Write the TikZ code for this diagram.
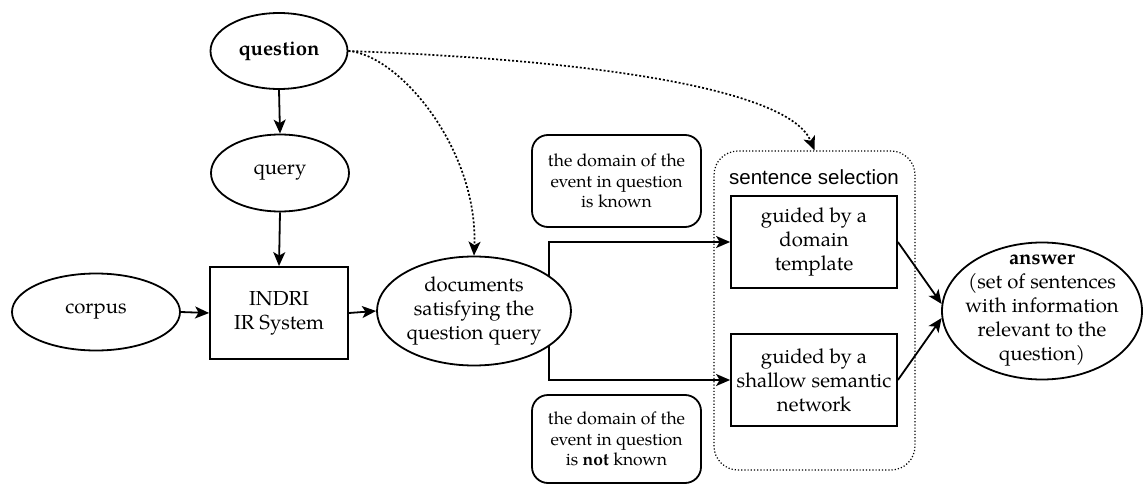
\documentclass[tikz,border=0pt]{standalone}
\usepackage{fontspec}
\setmainfont{TeX Gyre Pagella}
\newfontfamily\labelsans{Liberation Sans}
\usepackage{tikz}
\usetikzlibrary{arrows.meta,shapes.geometric,backgrounds}

\begin{document}
\begin{tikzpicture}[x=1pt,y=-1pt,font=\fontsize{20.3}{24}\selectfont,
  el/.style={draw,ellipse,fill=white,line width=1.8pt,inner sep=0pt,align=center},
  box/.style={draw,fill=white,line width=1.8pt,inner sep=0pt,align=center},
  note/.style={box,rounded corners=16pt,font=\fontsize{17.5}{20.5}\selectfont},
  ar/.style={-{Stealth[length=14pt,width=12pt,inset=3.5pt]},line width=1.8pt},
  dar/.style={ar,line width=1.7pt,dash pattern=on 2pt off 2pt}]
\useasboundingbox (0,0) rectangle (1143,484);
\node[el,minimum width=137,minimum height=76] (question) at (279,51) {\textbf{question}};
\node[el,minimum width=138,minimum height=77] (query) at (280,173) {query};
\node[el,minimum width=168,minimum height=77] (corpus) at (96,312) {corpus};
\node[box,minimum width=138,minimum height=92] (indri) at (279,313) {INDRI\\ IR System};
\node[el,inner xsep=-4pt,inner ysep=-3pt,minimum width=194,minimum height=109] (docs) at (474,311) {documents\\ satisfying the\\ question query};
\node[note,minimum width=169,minimum height=92] (known) at (616.5,181) {the domain of the\\ event in question\\ is known};
\node[note,minimum width=169,minimum height=88] (notknown) at (616.5,439) {the domain of the\\ event in question\\ is \textbf{not} known};
\node[draw,rounded corners=24pt,line width=1.2pt,dash pattern=on 1.2pt off 2pt,minimum width=201,minimum height=319] (selection) at (814.5,310.5) {};
\node[font=\labelsans\fontsize{20.5}{24}\selectfont] (sellabel) at (814,177) {sentence selection};
\node[box,minimum width=166,minimum height=92] (tmpl) at (814,242) {guided by a\\ domain\\ template};
\node[box,minimum width=166,minimum height=92] (shallow) at (814,380) {guided by a\\ shallow semantic\\ network};
\node[el,inner xsep=-16pt,inner ysep=-13pt,minimum width=200,minimum height=137] (answer) at (1042,311) {\textbf{answer}\\ (set of sentences\\ with information\\ relevant to the\\ question)};
\begin{scope}[on background layer]
\draw[ar] (question.south) -- (query.north);
\draw[ar] (query.south) -- (indri.north);
\draw[ar] (corpus.east) -- (indri.west);
\draw[ar] (indri.east) -- (docs.west);
\draw[ar] ([xshift=75pt]docs.center) |- (tmpl.west);
\draw[ar] ([xshift=75pt]docs.center) |- (shallow.west);
\draw[ar] (tmpl.east) -- (answer.176);
\draw[ar] (shallow.east) -- (answer.184);
\draw[dar] (question.east) .. controls (400,55) and (478,150) .. (docs.north);
\draw[dar] (question.east) .. controls (600,60) and (790,90) .. (selection.north);
\end{scope}
\end{tikzpicture}
\end{document}
